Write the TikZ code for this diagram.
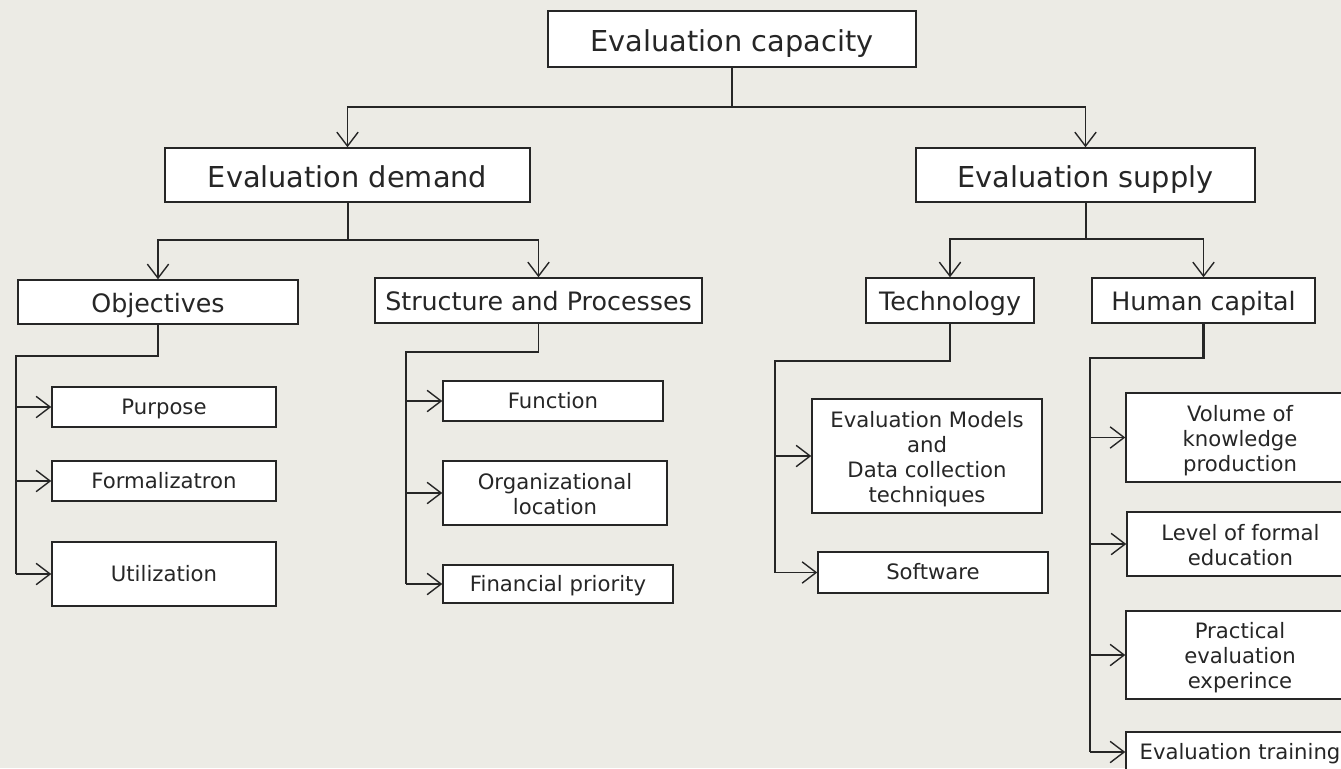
\documentclass[tikz,border=0pt]{standalone}
\usepackage{fontspec}
\setmainfont{DejaVu Sans}
\usetikzlibrary{arrows.meta}
\definecolor{bg}{RGB}{236,235,229}
\definecolor{ink}{RGB}{38,38,38}
\newcommand{\tstrut}{\rule{0pt}{1.12em}}
\newcommand{\bstrut}{\rule[-0.3em]{0pt}{0.3em}}
\begin{document}
\begin{tikzpicture}[x=0.75pt,y=-0.75pt,
  bx/.style n args={2}{draw=ink, fill=white, line width=1.1pt, inner sep=0pt,
     minimum width=#1*0.75pt, minimum height=#2*0.75pt, align=center, text=ink},
  big/.style={font=\fontsize{21.6}{25}\selectfont,
     execute at begin node={\rule{0pt}{1.2em}},
     execute at end node={\rule[-0.3em]{0pt}{0.3em}}},
  mid/.style={font=\fontsize{19}{22}\selectfont,
     execute at begin node={\rule{0pt}{1.1em}},
     execute at end node={\rule[-0.3em]{0pt}{0.3em}}},
  sml/.style={font=\fontsize{15.9}{18.75}\selectfont,
     execute at begin node={\rule{0pt}{0.98em}},
     execute at end node={\rule[-0.3em]{0pt}{0.3em}}},
  mls/.style={font=\fontsize{15.9}{18.75}\selectfont},
  ln/.style={draw=ink, line width=1.05pt},
  stem/.style={draw=ink, line width=1.5pt},
  arr/.style={draw=ink, line width=1.05pt, -{Straight Barb[length=10.5pt,width=16pt]}},
]
\useasboundingbox (0,0) rectangle (1341,768);
\fill[bg] (0,0) rectangle (1341,768);
\clip (0,0) rectangle (1341,768);

% level 0-1
\node[bx={368}{56}, big] (cap) at (732,39) {Evaluation capacity};
\node[bx={365}{54}, big] (dem) at (347.5,175) {Evaluation demand};
\node[bx={339}{54}, big] (sup) at (1085.5,175) {Evaluation supply};

% level 2
\node[bx={280}{44}, mid] (obj) at (158,302) {Objectives};
\node[bx={327}{45}, mid] (sp) at (538.5,300.5) {Structure and Processes};
\node[bx={168}{45}, mid] (tech) at (950,300.5) {Technology};
\node[bx={223}{45}, mid] (hc) at (1203.5,300.5) {Human capital};

% level 3
\node[bx={224}{40}, sml] (pur) at (164,407) {Purpose};
\node[bx={224}{40}, sml] (form) at (164,481) {Formalizatron};
\node[bx={224}{64}, sml] (util) at (164,574) {Utilization};

\node[bx={220}{40}, sml] (fun) at (553,401) {Function};
\node[bx={224}{64}, mls] (org) at (555,493) {\tstrut Organizational\\location\bstrut};
\node[bx={230}{38}, sml] (fin) at (558,584) {Financial priority};

\node[bx={230}{114}, mls] (evm) at (927,456) {\tstrut Evaluation Models\\and\\Data collection\\techniques\bstrut};
\node[bx={230}{41}, sml] (soft) at (933,572.5) {Software};

\node[bx={228}{89}, mls] (vol) at (1240,437.5) {\tstrut Volume of\\knowledge\\production\bstrut};
\node[bx={227}{64}, mls] (lev) at (1240.5,544) {\tstrut Level of formal\\education\bstrut};
\node[bx={228}{88}, mls] (prac) at (1240,655) {\tstrut Practical\\evaluation\\experince\bstrut};
\node[bx={228}{40}, sml] (train) at (1240,752) {Evaluation training};

% connectors top
\coordinate (r0) at (732,107);
\draw[stem] (cap.south) -- (r0);
\draw[arr] (r0) -| (dem.north);
\draw[arr] (r0) -| (sup.north);

\coordinate (r1) at (347.5,240);
\draw[stem] (dem.south) -- (r1);
\draw[arr] (r1) -| (obj.north);
\draw[arr] (r1) -| (sp.north);

\coordinate (r2) at (1085.5,239);
\draw[stem] (sup.south) -- (r2);
\draw[arr] (r2) -| (tech.north);
\draw[arr] (r2) -| (hc.north);

% objectives
\coordinate (o1) at (16,356);
\draw[ln] (obj.south) |- (o1) -- (o1 |- util.west);
\foreach \n in {pur,form,util} \draw[arr] (o1 |- \n.west) -- (\n.west);

% structure
\coordinate (s1) at (406,352);
\draw[ln] (sp.south) |- (s1) -- (s1 |- fin.west);
\foreach \n in {fun,org,fin} \draw[arr] (s1 |- \n.west) -- (\n.west);

% technology
\coordinate (t1) at (775,361);
\draw[ln] (tech.south) |- (t1) -- (t1 |- soft.west);
\foreach \n in {evm,soft} \draw[arr] (t1 |- \n.west) -- (\n.west);

% human capital
\coordinate (h1) at (1090,358);
\draw[draw=ink, line width=1.8pt] (hc.south) |- (h1) -- (h1 |- train.west);
\foreach \n in {vol,lev,prac,train} \draw[arr] (h1 |- \n.west) -- (\n.west);
\end{tikzpicture}
\end{document}
